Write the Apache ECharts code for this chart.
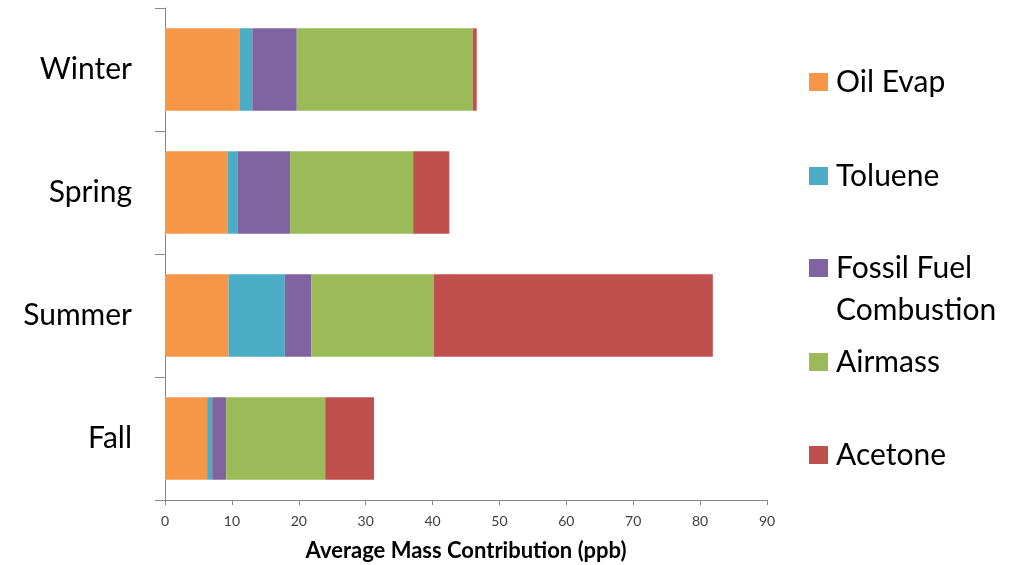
<!DOCTYPE html>
<html>
<head>
<meta charset="utf-8">
<style>
  html, body { margin: 0; padding: 0; background: #fff; }
  #chart { width: 1011px; height: 565px; }
</style>
<script src="https://cdn.jsdelivr.net/npm/echarts@6/dist/echarts.min.js"></script>
</head>
<body>
<div id="chart"></div>
<script>
// Seasons, top to bottom
const seasons = ['Winter', 'Spring', 'Summer', 'Fall'];

// Source contributions per season (ppb)
const oilEvap      = [11.2, 9.4, 9.5, 6.3];
const toluene      = [1.85, 1.5, 8.4, 0.75];
const fossilFuel   = [6.65, 7.8, 4.0, 2.1];
const airmass      = [26.3, 18.4, 18.3, 14.8];
const acetone      = [0.6, 5.4, 41.7, 7.3];

const xTicks = { min: 0, max: 90, interval: 10 };

const seriesDefs = [
  { name: 'Oil Evap', data: oilEvap, color: '#F79646' },
  { name: 'Toluene', data: toluene, color: '#4BACC6' },
  { name: 'Fossil Fuel Combustion', data: fossilFuel, color: '#8064A2' },
  { name: 'Airmass', data: airmass, color: '#9BBB59' },
  { name: 'Acetone', data: acetone, color: '#C0504D' }
];

const FONT = 'Lato, "Noto Sans", sans-serif';

// One legend block per entry so each can sit at its own height.
// The two-line entry gets an empty leading line so its swatch lines up with the first line.
const LEG_LH = 42;
const legendCenters = [82, 176, 268, 362, 455];
const legends = seriesDefs.map((s, i) => {
  const multi = s.name === 'Fossil Fuel Combustion';
  const lines = multi ? 3 : 1;
  return {
    data: [s.name],
    orient: 'vertical',
    left: 809,
    top: legendCenters[i] - (lines * LEG_LH) / 2,
    padding: 0,
    itemWidth: 19,
    itemHeight: 18,
    icon: 'rect',
    selectedMode: false,
    formatter: multi ? ' \nFossil Fuel\nCombustion' : '{name}',
    textStyle: { fontFamily: FONT, fontSize: 30, color: '#000', lineHeight: LEG_LH, padding: [0, 0, 0, 3] }
  };
});

const chart = echarts.init(document.getElementById('chart'), null, { renderer: 'canvas' });

chart.setOption({
  animation: false,
  backgroundColor: '#fff',
  legend: legends,
  grid: {
    left: 165, right: 244, top: 8, bottom: 65,
    containLabel: false,
    outerBoundsMode: 'none'
  },
  xAxis: {
    type: 'value',
    min: xTicks.min,
    max: xTicks.max,
    interval: xTicks.interval,
    name: 'Average Mass Contribution (ppb)',
    nameLocation: 'middle',
    nameGap: 40,
    nameTextStyle: { fontFamily: FONT, fontSize: 22, fontWeight: 'bold', color: '#000' },
    axisLine: { show: true, lineStyle: { color: '#868686', width: 1 } },
    axisTick: { show: true, length: 5, lineStyle: { color: '#868686' } },
    axisLabel: { fontFamily: FONT, fontSize: 14, color: '#404040', margin: 14 },
    splitLine: { show: false }
  },
  yAxis: {
    type: 'category',
    data: seasons,
    inverse: true,
    axisLine: { show: true, lineStyle: { color: '#868686', width: 1 } },
    axisTick: { show: true, length: 10, lineStyle: { color: '#868686' } },
    axisLabel: { fontFamily: FONT, fontSize: 30, color: '#000', margin: 33 },
    splitLine: { show: false }
  },
  series: seriesDefs.map(s => ({
    name: s.name,
    type: 'bar',
    stack: 'total',
    data: s.data,
    barCategoryGap: '33%',
    itemStyle: { color: s.color },
    emphasis: { disabled: true }
  }))
});
</script>
</body>
</html>
